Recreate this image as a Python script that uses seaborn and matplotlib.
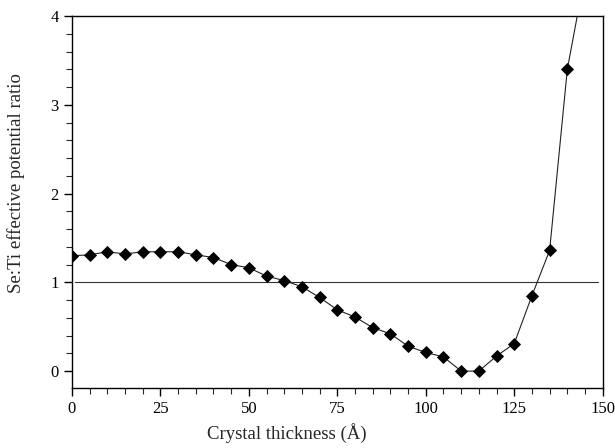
import matplotlib
matplotlib.use("Agg")
import matplotlib.pyplot as plt
from matplotlib.ticker import MultipleLocator
import numpy as np
import pandas as pd
import seaborn as sns

sns.set_theme(style="ticks")
plt.rcParams["font.family"] = ["Liberation Serif", "DejaVu Serif"]

# thickness (A) and Se:Ti effective potential ratio
thickness = [0, 5, 10, 15, 20, 25, 30, 35, 40, 45, 50, 55, 60, 65, 70, 75,
             80, 85, 90, 95, 100, 105, 110, 115, 120, 125, 130, 135, 140, 145]
ratio = [1.30, 1.31, 1.345, 1.32, 1.345, 1.345, 1.345, 1.31, 1.28, 1.20,
         1.165, 1.07, 1.02, 0.95, 0.83, 0.69, 0.61, 0.49, 0.42, 0.28,
         0.21, 0.16, 0.0, 0.0, 0.17, 0.31, 0.85, 1.36, 3.40, 4.47]
reference_level = 1.0

df = pd.DataFrame({"thickness": thickness, "ratio": ratio})

fig = plt.figure(figsize=(6.15, 4.48), dpi=100)
ax = fig.add_axes([0.117, 0.134, 0.863, 0.830])

ax.axhline(reference_level, xmin=0.006, xmax=0.991, color="#333333", linewidth=0.8)
sns.lineplot(data=df, x="thickness", y="ratio", ax=ax, color="#222222",
             linewidth=0.8, marker="D", markersize=6, markeredgewidth=0.6,
             markerfacecolor="black", markeredgecolor="black")

ax.set_xlim(0, 150)
ax.set_ylim(-0.19, 4)
ax.xaxis.set_major_locator(MultipleLocator(25))
ax.xaxis.set_minor_locator(MultipleLocator(5))
ax.yaxis.set_major_locator(MultipleLocator(1))
ax.yaxis.set_minor_locator(MultipleLocator(0.2))
ax.tick_params(which="major", direction="out", length=6, width=1.0,
               labelsize=12, colors="black")
ax.tick_params(which="minor", direction="out", length=4, width=0.8)

for s in ax.spines.values():
    s.set_visible(True)
    s.set_linewidth(1.0)
    s.set_color("black")

ax.set_xlabel("Crystal thickness (Å)", fontsize=13.5, labelpad=4, x=0.405)
ax.set_ylabel("Se:Ti effective potential ratio", fontsize=13.5, labelpad=18, y=0.55)

fig.savefig("out.png", dpi=100)
